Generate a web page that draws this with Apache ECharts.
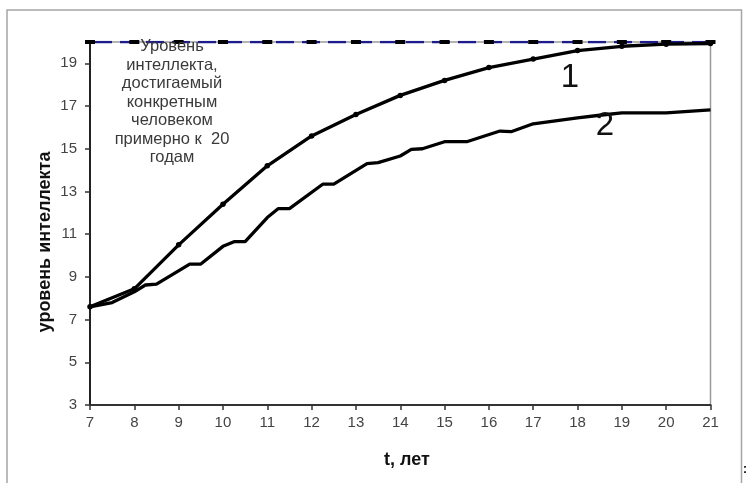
<!DOCTYPE html>
<html><head><meta charset="utf-8">
<script src="https://cdn.jsdelivr.net/npm/echarts@6/dist/echarts.min.js"></script>
<style>html,body{margin:0;padding:0;background:#fff}#c{width:747px;height:483px}</style>
</head><body><div id="c"></div>
<script>
// Data
const years1 = [7, 8, 9, 10, 11, 12, 13, 14, 15, 16, 17, 18, 19, 20, 21];
const curve1 = [7.6, 8.44, 10.5, 12.4, 14.2, 15.6, 16.6, 17.5, 18.2, 18.8, 19.2, 19.6, 19.8, 19.9, 19.93];
const years2 = [7, 7.5, 8, 8.25, 8.5, 9.25, 9.5, 10, 10.25, 10.5, 11, 11.25, 11.5, 12.25, 12.5, 13.25, 13.5, 14, 14.25, 14.5, 15, 15.5, 16.25, 16.5, 17, 18, 18.5, 19, 20, 21];
const curve2 = [7.6, 7.8, 8.3, 8.62, 8.66, 9.6, 9.6, 10.43, 10.65, 10.65, 11.78, 12.2, 12.2, 13.34, 13.34, 14.3, 14.35, 14.66, 14.97, 15.0, 15.33, 15.33, 15.83, 15.8, 16.17, 16.45, 16.57, 16.68, 16.68, 16.82];
const limitYears = [7, 8, 9, 10, 11, 12, 13, 14, 15, 16, 17, 18, 19, 20, 21];
const limitValue = [20, 20, 20, 20, 20, 20, 20, 20, 20, 20, 20, 20, 20, 20, 20];
const xTitle = 't, лет';
const yTitle = 'уровень интеллекта';
const noteText = 'Уровень\nинтеллекта,\nдостигаемый\nконкретным\nчеловеком\nпримерно к  20\nгодам';

const zip = (a, b) => a.map((v, i) => [v, b[i]]);
const chart = echarts.init(document.getElementById('c'), null, {renderer: 'canvas'});
chart.setOption({
  animation: false,
  backgroundColor: '#fff',
  grid: {left: 90, right: 36.5, top: 42, bottom: 78, show: true, borderColor: '#9a9a9a', borderWidth: 1.5, backgroundColor: 'transparent'},
  xAxis: {
    type: 'value', min: 7, max: 21, interval: 1,
    axisLine: {show: true, lineStyle: {color: '#333', width: 2}},
    axisTick: {show: true, length: 5, lineStyle: {color: '#333', width: 1.5}},
    axisLabel: {color: '#444', fontFamily: 'Liberation Sans, Arial', fontSize: 15, margin: 10},
    splitLine: {show: false}
  },
  yAxis: {
    type: 'value', min: 3, max: 20, interval: 2,
    axisLine: {show: true, lineStyle: {color: '#222', width: 2}},
    axisTick: {show: true, length: 5, lineStyle: {color: '#333', width: 1.5}},
    axisLabel: {color: '#444', fontFamily: 'Liberation Sans, Arial', fontSize: 15, margin: 13, showMaxLabel: false},
    splitLine: {show: false}
  },
  series: [
    {
      type: 'line', data: zip(limitYears, limitValue), z: 3,
      symbol: 'rect', symbolSize: [10, 4], showSymbol: true,
      itemStyle: {color: '#000'},
      lineStyle: {color: '#1c1c8a', width: 2.5, type: [18, 8], dashOffset: -4}
    },
    {
      type: 'line', data: zip(years1, curve1), z: 4,
      symbol: 'circle', symbolSize: 5.5, showSymbol: true,
      itemStyle: {color: '#000'},
      lineStyle: {color: '#000', width: 3.3}
    },
    {
      type: 'line', data: zip(years2, curve2), z: 4,
      symbol: 'none',
      lineStyle: {color: '#000', width: 3.3}
    }
  ],
  graphic: [
    {type: 'rect', z: -1, shape: {x: 7, y: 10, width: 734.5, height: 520}, style: {fill: 'none', stroke: '#a5a5a5', lineWidth: 1.5}, silent: true},
    {type: 'text', z: 10, x: 172, y: 37.5, style: {text: noteText, textAlign: 'center', textVerticalAlign: 'top', font: '16.5px "Liberation Sans", Arial', lineHeight: 18.5, fill: '#3a3a3a'}},
    {type: 'text', z: 10, x: 45, y: 242, rotation: Math.PI / 2, style: {text: yTitle, textAlign: 'center', textVerticalAlign: 'middle', font: 'bold 18px "Liberation Sans", Arial', fill: '#111'}},
    {type: 'text', z: 10, x: 407, y: 460, style: {text: xTitle, textAlign: 'center', textVerticalAlign: 'middle', font: 'bold 18px "Liberation Sans", Arial', fill: '#111'}},
    {type: 'text', z: 10, x: 570, y: 78, style: {text: '1', textAlign: 'center', textVerticalAlign: 'middle', font: '33px "Liberation Sans", Arial', fill: '#111'}},
    {type: 'text', z: 10, x: 605, y: 126, style: {text: '2', textAlign: 'center', textVerticalAlign: 'middle', font: '33px "Liberation Sans", Arial', fill: '#111'}},
    {type: 'text', z: 10, x: 745, y: 470, style: {text: ':', textAlign: 'center', textVerticalAlign: 'middle', font: 'bold 12px "Liberation Sans", Arial', fill: '#000'}}
  ]
});
</script></body></html>
